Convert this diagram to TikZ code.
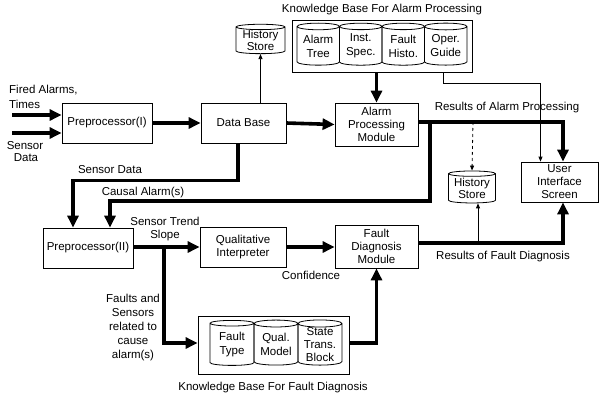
\documentclass[tikz,border=0pt]{standalone}
\usepackage{fontspec}
\setmainfont{Liberation Sans}
\usetikzlibrary{shapes.geometric,arrows.meta}
\begin{document}
\begin{tikzpicture}[x=1pt,y=-1pt,
  font=\fontsize{11.5}{13}\selectfont,
  box/.style={draw,line width=0.8pt,align=center,inner sep=1pt},
  cyl/.style={draw,line width=0.8pt,cylinder,shape border rotate=90,aspect=0.22,inner sep=0pt,align=center,font=\fontsize{11.5}{14}\selectfont},
  cstrut/.style={execute at begin node={\rule{0pt}{#1}}},
  lbl/.style={align=center,inner sep=0pt},
  big/.style={line width=3.6pt,-{Triangle[length=12pt,width=11pt]}},
  thin/.style={line width=0.8pt,-{Triangle[length=5pt,width=4pt]}}]
\useasboundingbox (0,0) rectangle (601,399);
% boxes
\node[box,minimum width=90pt,minimum height=40pt] (pre1) at (107,123) {Preprocessor(I)};
\node[box,minimum width=85pt,minimum height=40pt] (db) at (243.5,123) {Data Base};
\node[box,minimum width=83pt,minimum height=43pt] (apm) at (376.5,124.5) {Alarm\\Processing\\Module};
\node[box,minimum width=77pt,minimum height=40pt] (ui) at (559.5,182) {User\\Interface\\Screen};
\node[box,minimum width=90pt,minimum height=40pt] (pre2) at (88,248) {Preprocessor(II)};
\node[box,minimum width=86pt,minimum height=40pt] (qi) at (243,247) {Qualitative\\Interpreter};
\node[box,minimum width=83pt,minimum height=43pt] (fdm) at (376.5,246.5) {Fault\\Diagnosis\\Module};
% history stores
\node[cyl,minimum width=49pt,minimum height=29pt,aspect=0.15,cstrut=11pt,font=\fontsize{11.5}{12.5}\selectfont] (hs1) at (260.5,40.5) {History\\Store};
\node[cyl,minimum width=47pt,minimum height=32pt,aspect=0.15,cstrut=11pt,font=\fontsize{11.5}{12.5}\selectfont] (hs2) at (472,188.5) {History\\Store};
% knowledge base alarm
\node[box,minimum width=180pt,minimum height=52pt] (kba) at (382,46) {};
\node[cyl,cstrut=15pt,minimum width=42.5pt,minimum height=42pt] (c1) at (318.25,46) {Alarm\\Tree};
\node[cyl,cstrut=15pt,minimum width=42.5pt,minimum height=42pt] (c2) at (360.75,46) {Inst.\\Spec.};
\node[cyl,cstrut=15pt,minimum width=42.5pt,minimum height=42pt] (c3) at (403.25,46) {Fault\\Histo.};
\node[cyl,cstrut=15pt,minimum width=42.5pt,minimum height=42pt] (c4) at (445.75,46) {Oper.\\Guide};
\node[lbl] (kbat) at (382,10) {Knowledge Base For Alarm Processing};
% knowledge base fault
\node[box,minimum width=151pt,minimum height=58pt] (kbf) at (273.5,345) {};
\node[cyl,cstrut=14pt,minimum width=44pt,minimum height=45pt] (f1) at (232,344.5) {Fault\\Type};
\node[cyl,cstrut=14pt,minimum width=44pt,minimum height=45pt] (f2) at (276,344.5) {Qual.\\Model};
\node[cyl,cstrut=10pt,minimum width=44pt,minimum height=45pt,font=\fontsize{11.5}{13}\selectfont] (f3) at (320,344.5) {State\\Trans.\\Block};
\node[lbl] (kbft) at (273,388) {Knowledge Base For Fault Diagnosis};
% labels
\node[lbl,anchor=west] (lfa) at (9,90) {Fired Alarms,};
\node[lbl,anchor=west] (lti) at (9,104) {Times};
\node[lbl] (lse) at (25,146) {Sensor};
\node[lbl] (lda) at (26,158) {Data};
\node[lbl] (lsd) at (110,170) {Sensor Data};
\node[lbl] (lca) at (143,193) {Causal Alarm(s)};
\node[lbl] (lst) at (165,229) {Sensor Trend\\Slope};
\node[lbl,font=\fontsize{11.5}{14}\selectfont] (lfs) at (133,328) {Faults and\\Sensors\\related to\\cause\\alarm(s)};
\node[lbl] (lco) at (311,275) {Confidence};
\node[lbl] (lra) at (507,108) {Results of Alarm Processing};
\node[lbl] (lrf) at (503,257) {Results of Fault Diagnosis};
% coordinates
\coordinate (s1) at (12,115);
\coordinate (s2) at (12,133);
\coordinate (j1) at (430,122);
\coordinate (j2) at (473,122);
\coordinate (j3) at (164,247);
\coordinate (j4) at (478,243);
\coordinate (k1) at (443,72);
% connectors
\draw[big] (s1) -- (s1 -| pre1.west);
\draw[big] (s2) -- (s2 -| pre1.west);
\draw[big] (pre1.east) -- (db.west);
\draw[thin] (hs1.south |- db.north) -- (hs1.south);
\draw[big] (db.east) -- (apm.west);
\draw[big] (apm.north |- kba.south) -- (apm.north);
\draw[thin] (k1) -- ++(0,11) -| ([xshift=-19pt]ui.north);
\draw[big] (apm.east |- j1) -| ([xshift=3.5pt]ui.north);
\draw[big] (j1) |- ++(-20,79) -| ([xshift=22pt]pre2.north);
\draw[big] ([xshift=-5.5pt]db.south) |- ++(-165,37) -| ([xshift=-15pt]pre2.north);
\draw[thin,dashed] (j2) -- (hs2.north);
\draw[big] (pre2.east |- j3) -- (qi.west |- j3);
\draw[big] (j3) |- (kbf.west |- 0,343);
\draw[big] (qi.east |- j3) -- (fdm.west |- j3);
\draw[big] (kbf.east |- 0,343) -| (fdm.south);
\draw[big] (fdm.east |- j4) -| ([xshift=3.5pt]ui.south);
\draw[thin] (j4) -- (j4 |- hs2.south);
\end{tikzpicture}
\end{document}
